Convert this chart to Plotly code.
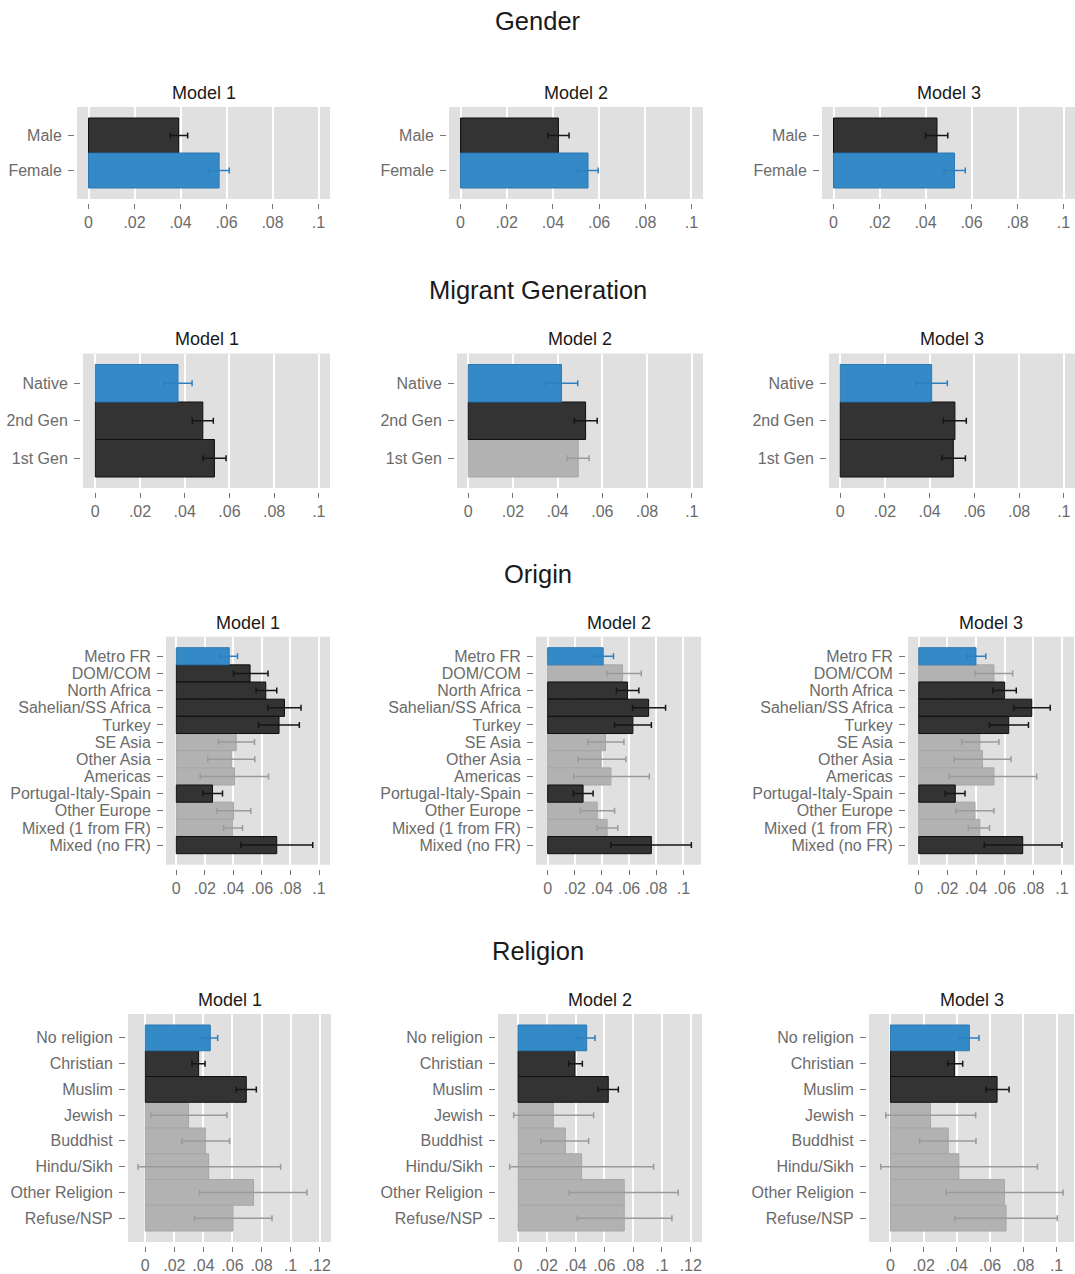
import plotly.graph_objects as go

W, H = 1075, 1274

# ---------------------------------------------------------------- data
# group codes: "ref" = reference category, "sig" = significant, "ns" = not significant
gender_labels = ["Male", "Female"]
gender_m1_est = [0.0392, 0.0568]
gender_m1_lo = [0.0356, 0.0525]
gender_m1_hi = [0.0431, 0.0612]
gender_m1_grp = ["sig", "ref"]
gender_m2_est = [0.0424, 0.0552]
gender_m2_lo = [0.0379, 0.0506]
gender_m2_hi = [0.0470, 0.0596]
gender_m2_grp = ["sig", "ref"]
gender_m3_est = [0.0450, 0.0526]
gender_m3_lo = [0.0400, 0.0481]
gender_m3_hi = [0.0497, 0.0573]
gender_m3_grp = ["sig", "ref"]

migrant_labels = ["Native", "2nd Gen", "1st Gen"]
migrant_m1_est = [0.0370, 0.0481, 0.0533]
migrant_m1_lo = [0.0307, 0.0434, 0.0482]
migrant_m1_hi = [0.0433, 0.0528, 0.0585]
migrant_m1_grp = ["ref", "sig", "sig"]
migrant_m2_est = [0.0417, 0.0525, 0.0492]
migrant_m2_lo = [0.0345, 0.0474, 0.0443]
migrant_m2_hi = [0.0490, 0.0577, 0.0541]
migrant_m2_grp = ["ref", "sig", "ns"]
migrant_m3_est = [0.0409, 0.0513, 0.0506]
migrant_m3_lo = [0.0337, 0.0461, 0.0455]
migrant_m3_hi = [0.0479, 0.0564, 0.0560]
migrant_m3_grp = ["ref", "sig", "sig"]

origin_labels = ["Metro FR", "DOM/COM", "North Africa", "Sahelian/SS Africa", "Turkey",
                 "SE Asia", "Other Asia", "Americas", "Portugal-Italy-Spain",
                 "Other Europe", "Mixed (1 from FR)", "Mixed (no FR)"]
origin_m1_est = [0.0371, 0.0517, 0.0627, 0.0758, 0.0720, 0.0420, 0.0389, 0.0408, 0.0254, 0.0401, 0.0396, 0.0704]
origin_m1_lo = [0.0308, 0.0401, 0.0559, 0.0643, 0.0576, 0.0296, 0.0221, 0.0168, 0.0186, 0.0284, 0.0331, 0.0452]
origin_m1_hi = [0.0429, 0.0643, 0.0704, 0.0874, 0.0862, 0.0548, 0.0550, 0.0646, 0.0324, 0.0522, 0.0464, 0.0956]
origin_m1_grp = ["ref", "sig", "sig", "sig", "sig", "ns", "ns", "ns", "sig", "ns", "ns", "sig"]
origin_m2_est = [0.0409, 0.0552, 0.0589, 0.0744, 0.0628, 0.0426, 0.0394, 0.0466, 0.0261, 0.0365, 0.0438, 0.0764]
origin_m2_lo = [0.0337, 0.0436, 0.0507, 0.0626, 0.0493, 0.0296, 0.0222, 0.0192, 0.0190, 0.0241, 0.0365, 0.0466]
origin_m2_hi = [0.0485, 0.0690, 0.0672, 0.0869, 0.0764, 0.0562, 0.0576, 0.0749, 0.0335, 0.0493, 0.0517, 0.1059]
origin_m2_grp = ["ref", "ns", "sig", "sig", "sig", "ns", "ns", "ns", "sig", "ns", "ns", "sig"]
origin_m3_est = [0.0400, 0.0525, 0.0600, 0.0789, 0.0628, 0.0426, 0.0445, 0.0525, 0.0255, 0.0393, 0.0426, 0.0726]
origin_m3_lo = [0.0335, 0.0393, 0.0518, 0.0663, 0.0494, 0.0300, 0.0248, 0.0213, 0.0185, 0.0260, 0.0347, 0.0457]
origin_m3_hi = [0.0468, 0.0656, 0.0681, 0.0918, 0.0766, 0.0560, 0.0644, 0.0824, 0.0323, 0.0525, 0.0494, 0.1000]
origin_m3_grp = ["ref", "ns", "sig", "sig", "sig", "ns", "ns", "ns", "sig", "ns", "ns", "sig"]

religion_labels = ["No religion", "Christian", "Muslim", "Jewish", "Buddhist",
                   "Hindu/Sikh", "Other Religion", "Refuse/NSP"]
religion_m1_est = [0.0447, 0.0367, 0.0695, 0.0298, 0.0413, 0.0436, 0.0745, 0.0603]
religion_m1_lo = [0.0388, 0.0321, 0.0626, 0.0039, 0.0252, -0.0050, 0.0374, 0.0339]
religion_m1_hi = [0.0498, 0.0411, 0.0764, 0.0562, 0.0580, 0.0931, 0.1112, 0.0872]
religion_m1_grp = ["ref", "sig", "sig", "ns", "ns", "ns", "ns", "ns"]
religion_m2_est = [0.0477, 0.0396, 0.0627, 0.0245, 0.0329, 0.0442, 0.0738, 0.0738]
religion_m2_lo = [0.0414, 0.0352, 0.0556, -0.0030, 0.0160, -0.0058, 0.0356, 0.0412]
religion_m2_hi = [0.0535, 0.0447, 0.0697, 0.0525, 0.0491, 0.0942, 0.1113, 0.1069]
religion_m2_grp = ["ref", "sig", "sig", "ns", "ns", "ns", "ns", "ns"]
religion_m3_est = [0.0475, 0.0386, 0.0642, 0.0241, 0.0348, 0.0412, 0.0686, 0.0696]
religion_m3_lo = [0.0416, 0.0344, 0.0575, -0.0028, 0.0175, -0.0058, 0.0336, 0.0388]
religion_m3_hi = [0.0533, 0.0435, 0.0714, 0.0513, 0.0515, 0.0885, 0.1040, 0.1004]
religion_m3_grp = ["ref", "sig", "sig", "ns", "ns", "ns", "ns", "ns"]

model_titles = ["Model 1", "Model 2", "Model 3"]
x_ticks_short = [0, 0.02, 0.04, 0.06, 0.08, 0.1]
x_ticks_long = [0, 0.02, 0.04, 0.06, 0.08, 0.1, 0.12]

# ---------------------------------------------------------------- layout setup
sections = [
    dict(title="Gender", title_y=21, labels=gender_labels,
         models=[(gender_m1_est, gender_m1_lo, gender_m1_hi, gender_m1_grp),
                 (gender_m2_est, gender_m2_lo, gender_m2_hi, gender_m2_grp),
                 (gender_m3_est, gender_m3_lo, gender_m3_hi, gender_m3_grp)],
         cols=[(77, 330), (449, 703), (822, 1075)], rows=(107, 199),
         xranges=[[-0.005, 0.105]] * 3, ticks=[x_ticks_short] * 3),
    dict(title="Migrant Generation", title_y=290, labels=migrant_labels,
         models=[(migrant_m1_est, migrant_m1_lo, migrant_m1_hi, migrant_m1_grp),
                 (migrant_m2_est, migrant_m2_lo, migrant_m2_hi, migrant_m2_grp),
                 (migrant_m3_est, migrant_m3_lo, migrant_m3_hi, migrant_m3_grp)],
         cols=[(83, 330), (457, 703), (829, 1075)], rows=(353.5, 488),
         xranges=[[-0.0055, 0.105], [-0.005, 0.105], [-0.005, 0.105]], ticks=[x_ticks_short] * 3),
    dict(title="Origin", title_y=574, labels=origin_labels,
         models=[(origin_m1_est, origin_m1_lo, origin_m1_hi, origin_m1_grp),
                 (origin_m2_est, origin_m2_lo, origin_m2_hi, origin_m2_grp),
                 (origin_m3_est, origin_m3_lo, origin_m3_hi, origin_m3_grp)],
         cols=[(166, 330), (536, 701), (908, 1074)], rows=(636.7, 864.7),
         xranges=[[-0.0072, 0.1077], [-0.0086, 0.113], [-0.0075, 0.1084]], ticks=[x_ticks_short] * 3),
    dict(title="Religion", title_y=951, labels=religion_labels,
         models=[(religion_m1_est, religion_m1_lo, religion_m1_hi, religion_m1_grp),
                 (religion_m2_est, religion_m2_lo, religion_m2_hi, religion_m2_grp),
                 (religion_m3_est, religion_m3_lo, religion_m3_hi, religion_m3_grp)],
         cols=[(128, 331), (498, 702), (869, 1074)], rows=(1014, 1242),
         xranges=[[-0.0119, 0.1278], [-0.0139, 0.1278], [-0.0129, 0.1105]],
         ticks=[x_ticks_long, x_ticks_long, x_ticks_short]),
]

FILL = {"ref": "#348ac7", "sig": "#333333", "ns": "#b2b2b2"}
EDGE = {"ref": "#2b78b0", "sig": "#0e0e0e", "ns": "#a6a6a6"}
ERR = {"ref": "#2f7fbf", "sig": "#151515", "ns": "#9a9a9a"}

FONT = "Liberation Sans, Arial, Helvetica, sans-serif"
TICK_FONT = dict(family=FONT, size=16, color="#6b6b6b")
TICK_COLOR = "#757575"
PAD_PX = 11


def stata_tick(v):
    s = f"{v:g}"
    return s.lstrip("0") or "0"


fig = go.Figure()
layout = dict(
    width=W, height=H, autosize=False,
    margin=dict(l=0, r=0, t=0, b=0),
    paper_bgcolor="white", plot_bgcolor="#e0e0e0",
    barmode="overlay", showlegend=False,
    font=dict(family=FONT, color="#333333"),
    annotations=[],
)

k = 0
for sec in sections:
    top, bottom = sec["rows"]
    labels = sec["labels"]
    n = len(labels)
    bar_px = (bottom - top - 2 * PAD_PX) / n
    pad = PAD_PX / bar_px

    layout["annotations"].append(dict(
        text=sec["title"], x=0.5, y=1 - sec["title_y"] / H, xref="paper", yref="paper",
        xanchor="center", yanchor="middle", showarrow=False,
        font=dict(family=FONT, size=25.5, color="#1a1a1a")))

    for m, (est, lo, hi, grp) in enumerate(sec["models"]):
        k += 1
        left, right = sec["cols"][m]
        xname = "xaxis" if k == 1 else f"xaxis{k}"
        yname = "yaxis" if k == 1 else f"yaxis{k}"
        xref = "x" if k == 1 else f"x{k}"
        yref = "y" if k == 1 else f"y{k}"

        for g in ["ns", "sig", "ref"]:
            idx = [i for i, gg in enumerate(grp) if gg == g]
            if not idx:
                continue
            fig.add_trace(go.Bar(
                orientation="h",
                x=[est[i] for i in idx], y=idx, width=1.0,
                marker=dict(color=FILL[g], line=dict(color=EDGE[g], width=1)),
                error_x=dict(type="data", symmetric=False,
                             array=[hi[i] - est[i] for i in idx],
                             arrayminus=[est[i] - lo[i] for i in idx],
                             color=ERR[g], thickness=1.5, width=3),
                xaxis=xref, yaxis=yref, hoverinfo="skip"))

        ticks = sec["ticks"][m]
        layout[xname] = dict(
            domain=[left / W, right / W], range=sec["xranges"][m],
            anchor="free", position=(H - bottom - 4) / H,
            tickmode="array", tickvals=ticks, ticktext=[stata_tick(v) for v in ticks],
            ticks="outside", ticklen=5, tickwidth=1, tickcolor=TICK_COLOR,
            showgrid=True, gridcolor="white", gridwidth=1.5,
            zeroline=False, showline=False, tickfont=TICK_FONT, fixedrange=True)
        layout[yname] = dict(
            domain=[(H - bottom) / H, (H - top) / H],
            range=[n - 0.5 + pad, -0.5 - pad],
            anchor="free", position=(left - 3) / W,
            tickmode="array", tickvals=list(range(n)), ticktext=labels,
            ticks="outside", ticklen=6, tickwidth=1.2, tickcolor=TICK_COLOR,
            ticklabelstandoff=3,
            showgrid=False, zeroline=False, showline=False,
            tickfont=TICK_FONT, fixedrange=True)

        layout["annotations"].append(dict(
            text=model_titles[m], x=(left + right) / 2 / W, y=1 - (top - 14) / H,
            xref="paper", yref="paper", xanchor="center", yanchor="middle",
            showarrow=False, font=dict(family=FONT, size=18, color="#1a1a1a")))

fig.update_layout(**layout)
fig.write_html("out.html")
